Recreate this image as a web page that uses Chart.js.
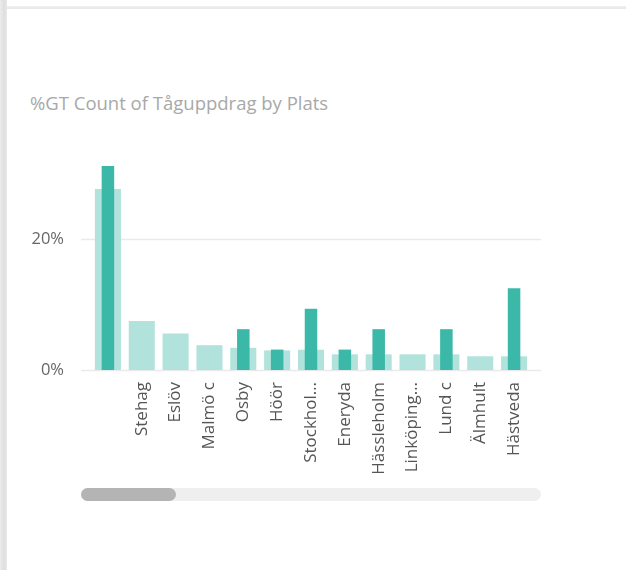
<!DOCTYPE html>
<html>
<head>
<meta charset="utf-8">
<script src="https://cdn.jsdelivr.net/npm/chart.js@4/dist/chart.umd.min.js"></script>
<style>
  html, body { margin: 0; padding: 0; background: #fff; }
  body { width: 626px; height: 570px; position: relative; overflow: hidden; font-family: "Open Sans", sans-serif; }
  #leftEdge { position: absolute; left: 0; top: 0; width: 7px; height: 570px; background: linear-gradient(to right, #ececec, #dedede 60%, #e8e8e8); }
  #topEdge { position: absolute; left: 7px; top: 6px; width: 619px; height: 3px; background: linear-gradient(#f2f2f2, #e6e6e6); }
  #title { position: absolute; left: 30px; top: 90px; font-size: 18.5px; color: #a8a8a8; white-space: nowrap; }
  #wrap { position: absolute; left: 0; top: 0; width: 626px; height: 570px; }
  #track { position: absolute; left: 81px; top: 488px; width: 460px; height: 13px; border-radius: 7px; background: #efefef; }
  #thumb { position: absolute; left: 81px; top: 488px; width: 95px; height: 13px; border-radius: 7px; background: #b4b4b4; }
</style>
</head>
<body>
<div id="leftEdge"></div>
<div id="topEdge"></div>
<div id="title">%GT Count of Tåguppdrag by Plats</div>
<div id="wrap"><canvas id="chart" width="626" height="570"></canvas></div>
<div id="track"></div>
<div id="thumb"></div>

<script>
// === data ===
const places = ['', 'Stehag', 'Eslöv', 'Malmö c', 'Osby', 'Höör', 'Stockhol…', 'Eneryda',
  'Hässleholm', 'Linköping…', 'Lund c', 'Älmhult', 'Hästveda'];
// light series (total share per place, %)
const shareAll = [27.7, 7.5, 5.6, 3.8, 3.4, 3.0, 3.1, 2.4, 2.4, 2.4, 2.4, 2.1, 2.1];
// dark series (%)
const shareSel = [31.25, 0, 0, 0, 6.25, 3.125, 9.375, 3.125, 6.25, 0, 6.25, 0, 12.5];
const yTicks = [0, 20];

// horizontal grid lines that run a bit past the bars, like Power BI
const gridPlugin = {
  id: 'pbiGrid',
  beforeDatasetsDraw(chart) {
    const { ctx, chartArea, scales } = chart;
    ctx.save();
    ctx.strokeStyle = '#eaeaea';
    ctx.lineWidth = 1.5;
    yTicks.forEach(v => {
      const y = Math.round(scales.y.getPixelForValue(v)) + 0.5;
      ctx.beginPath();
      ctx.moveTo(chartArea.left - 10, y);
      ctx.lineTo(chartArea.right + 10, y);
      ctx.stroke();
    });
    ctx.restore();
  }
};

new Chart(document.getElementById('chart').getContext('2d'), {
  type: 'bar',
  data: {
    labels: places,
    datasets: [
      {
        label: 'Alla',
        data: shareAll,
        backgroundColor: '#b1e3dc',
        barPercentage: 0.77,
        categoryPercentage: 1,
        grouped: false,
        order: 2
      },
      {
        label: 'Vald',
        data: shareSel,
        backgroundColor: '#3cb8a8',
        barPercentage: 0.37,
        categoryPercentage: 1,
        grouped: false,
        order: 1
      }
    ]
  },
  options: {
    responsive: false,
    animation: false,
    events: [],
    layout: { padding: { top: 161, right: 95, left: 0, bottom: 0 } },
    plugins: { legend: { display: false }, tooltip: { enabled: false } },
    scales: {
      x: {
        grid: { display: false, drawTicks: false },
        border: { display: false },
        ticks: {
          autoSkip: false,
          minRotation: 90,
          maxRotation: 90,
          padding: 12,
          color: '#555',
          font: { family: 'Open Sans', size: 17 }
        },
        afterFit(scale) { scale.height = 200; }
      },
      y: {
        min: 0,
        max: 32,
        grid: { display: false, drawTicks: false },
        border: { display: false },
        afterBuildTicks(scale) { scale.ticks = yTicks.map(v => ({ value: v })); },
        ticks: {
          padding: 27,
          color: '#666',
          font: { family: 'Open Sans', size: 16.5 },
          callback: v => v + '%'
        },
        afterFit(scale) { scale.width = 91; }
      }
    }
  },
  plugins: [gridPlugin]
});
</script>
</body>
</html>
